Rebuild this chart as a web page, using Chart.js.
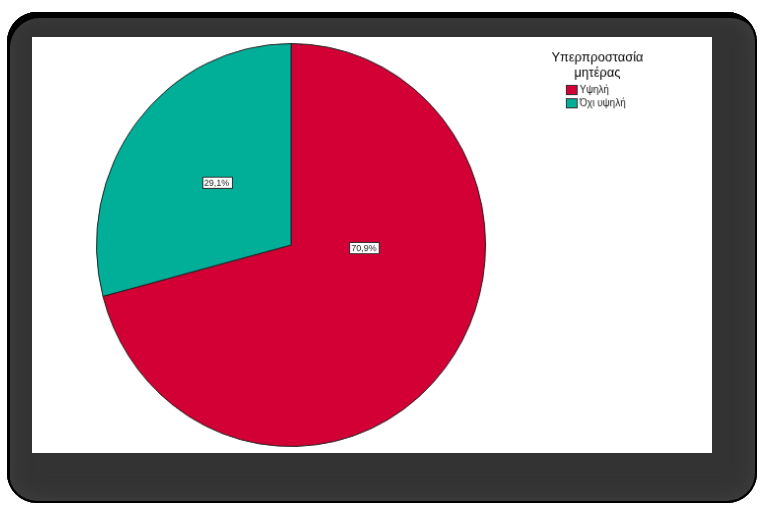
<!DOCTYPE html>
<html>
<head>
<meta charset="utf-8">
<script src="https://cdn.jsdelivr.net/npm/chart.js@4"></script>
<style>
  body { margin: 0; background: #fff; width: 760px; height: 509px; overflow: hidden; font-family: "Liberation Sans", Arial, sans-serif; }
  #frame { position: absolute; left: 7px; top: 12px; width: 750px; height: 491px; background: #333; border-radius: 30px;
           box-shadow: inset 3px 6px 0 #000, inset 0 0 0 2px #000, inset 0 0 16px 8px #3c3c3c; }
  #panel { position: absolute; left: 32px; top: 37px; width: 680px; height: 416px; background: #fff; overflow: hidden; }
  #wrap { width: 680px; height: 416px; transform: scale(0.985, 1.02); transform-origin: 259px 208px; }
</style>
</head>
<body>
<div id="frame"></div>
<div id="panel"><div id="wrap"><canvas id="grafico"></canvas></div></div>
<script>
// Dados
const categorias = ['Υψηλή', 'Όχι υψηλή'];
const percentagens = [70.9, 29.1];
const cores = ['#d20034', '#01af98'];
const tituloLegenda = ['Υπερπροστασία', 'μητέρας'];

// rótulos das fatias (caixa branca com borda)
const rotulosFatias = {
    id: 'rotulosFatias',
    afterDatasetsDraw(chart, args, opts) {
        const ctx = chart.ctx;
        const arcs = chart.getDatasetMeta(0).data;
        ctx.save();
        ctx.font = '9px "Liberation Sans", Arial, sans-serif';
        ctx.textAlign = 'center';
        ctx.textBaseline = 'middle';
        arcs.forEach((arc, i) => {
            const off = opts.offsets[i];
            const x = arc.x + off.dx * arc.outerRadius;
            const y = arc.y + off.dy * arc.outerRadius;
            const txt = chart.data.datasets[0].data[i].toFixed(1).replace('.', ',') + '%';
            const w = Math.round(ctx.measureText(txt).width) + 4;
            const h = 11;
            ctx.fillStyle = '#fff';
            ctx.fillRect(Math.round(x - w / 2) + 0.5, Math.round(y - h / 2) + 0.5, w, h);
            ctx.strokeStyle = '#333';
            ctx.lineWidth = 1;
            ctx.strokeRect(Math.round(x - w / 2) + 0.5, Math.round(y - h / 2) + 0.5, w, h);
            ctx.fillStyle = '#222';
            ctx.fillText(txt, x, y + 0.5);
        });
        ctx.restore();
    }
};

// legenda no estilo SPSS
const legendaSpss = {
    id: 'legendaSpss',
    afterDraw(chart, args, opts) {
        const ctx = chart.ctx;
        ctx.save();
        ctx.fillStyle = '#000';
        ctx.textAlign = 'center';
        ctx.textBaseline = 'middle';
        ctx.font = '13px "Liberation Sans", Arial, sans-serif';
        tituloLegenda.forEach((linha, i) => ctx.fillText(linha, opts.x, opts.y + i * 15));
        ctx.textAlign = 'left';
        ctx.font = '10px "Liberation Sans", Arial, sans-serif';
        categorias.forEach((cat, i) => {
            const by = opts.itemY + i * 13;
            ctx.fillStyle = cores[i];
            ctx.fillRect(opts.boxX + 0.5, by + 0.5, 11, 9);
            ctx.strokeStyle = '#333';
            ctx.strokeRect(opts.boxX + 0.5, by + 0.5, 11, 9);
            ctx.fillStyle = '#222';
            ctx.fillText(cat, opts.boxX + 14, by + 5);
        });
        ctx.restore();
    }
};

const config = {
    type: 'pie',
    data: {
        labels: categorias,
        datasets: [{
            data: percentagens,
            backgroundColor: cores,
            borderColor: '#222',
            borderWidth: 1
        }]
    },
    options: {
        responsive: true,
        maintainAspectRatio: false,
        animation: false,
        layout: { padding: { left: 61, right: 223, top: 10, bottom: 10 } },
        plugins: {
            legend: { display: false },
            tooltip: { enabled: false },
            rotulosFatias: { offsets: [{ dx: 0.375, dy: 0.013 }, { dx: -0.382, dy: -0.311 }] },
            legendaSpss: { x: 570, y: 24, boxX: 538, itemY: 51 }
        }
    },
    plugins: [rotulosFatias, legendaSpss]
};

window.onload = function() {
    const ctx = document.getElementById('grafico').getContext('2d');
    new Chart(ctx, config);
};
</script>
</body>
</html>
